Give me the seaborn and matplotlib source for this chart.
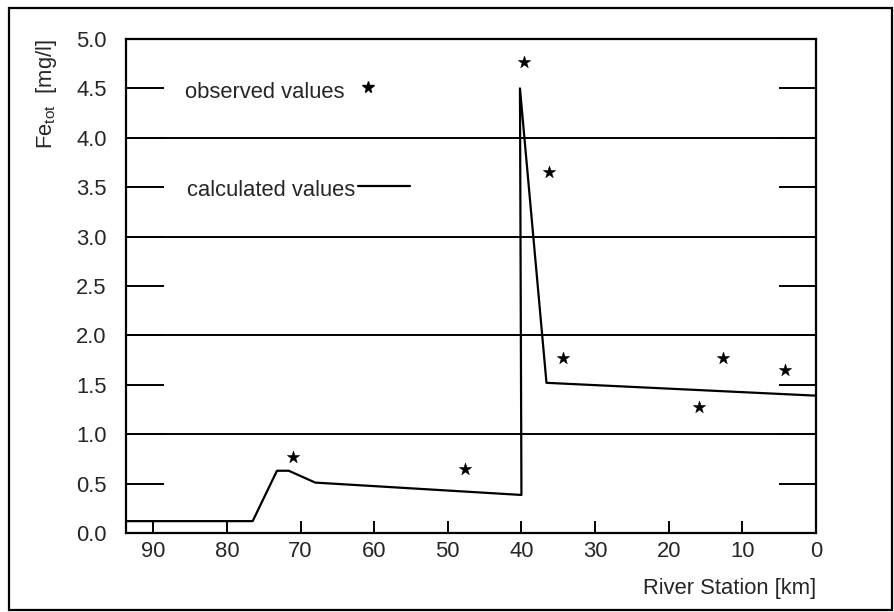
# Fe_tot along the river: observed samples vs calculated profile
import matplotlib
matplotlib.use("Agg")
import matplotlib.pyplot as plt
from matplotlib.patches import Rectangle
from matplotlib.ticker import FixedLocator
import pandas as pd
import seaborn as sns

# ---- data ----
calc_km = [93.7, 76.5, 73.2, 71.6, 68.0, 40.0, 40.2, 36.6, 0.0]
calc_fe = [0.12, 0.12, 0.63, 0.63, 0.51, 0.385, 4.50, 1.52, 1.39]

obs_km = [71.0, 47.6, 39.7, 36.3, 34.3, 15.9, 12.6, 4.2]
obs_fe = [0.77, 0.645, 4.77, 3.65, 1.77, 1.28, 1.77, 1.65]

x_ticks = [90, 80, 70, 60, 50, 40, 30, 20, 10, 0]
y_ticks = [0.0, 0.5, 1.0, 1.5, 2.0, 2.5, 3.0, 3.5, 4.0, 4.5, 5.0]
y_grid = [1, 2, 3, 4]

calc = pd.DataFrame({"km": calc_km, "fe": calc_fe})
obs = pd.DataFrame({"km": obs_km, "fe": obs_fe})

# ---- style ----
sns.set_theme(style="white")
plt.rcParams["font.family"] = ["Liberation Sans", "DejaVu Sans"]
plt.rcParams["mathtext.fontset"] = "custom"
plt.rcParams["mathtext.rm"] = "Liberation Sans"
plt.rcParams["mathtext.it"] = "Liberation Sans"

FS = 15.8

fig = plt.figure(figsize=(8.95, 6.12), dpi=100)
ax = fig.add_axes([0.1408, 0.1291, 0.7709, 0.8072])

# ---- plot ----
sns.lineplot(data=calc, x="km", y="fe", ax=ax, color="black", lw=1.6,
             sort=False, estimator=None)
sns.scatterplot(data=obs, x="km", y="fe", ax=ax, color="black", marker="*",
                s=85, edgecolor="black", linewidth=0.4, zorder=5)

ax.set_xlim(93.7, 0)
ax.set_ylim(0, 5)
ax.set_xticks(x_ticks)
ax.set_yticks(y_ticks)
ax.set_yticklabels([f"{v:.1f}" for v in y_ticks])
# integer levels get full-width grid lines (minor ticks that sit on majors)
ax.yaxis.remove_overlapping_locs = False
ax.yaxis.set_minor_locator(FixedLocator(y_grid))
ax.grid(which="minor", axis="y", color="black", lw=1.4)

ax.tick_params(axis="x", direction="in", length=9, width=1.4, color="black",
               labelsize=FS, pad=6, bottom=True, top=False)
ax.tick_params(axis="y", which="major", direction="in", length=27, width=1.4,
               color="black", labelsize=FS, pad=14, left=True, right=True)
ax.tick_params(axis="y", which="minor", length=0)

for s in ax.spines.values():
    s.set_color("black")
    s.set_linewidth(1.6)

ax.set_xlabel("River Station [km]", fontsize=FS, loc="right", labelpad=11)
ax.set_ylabel(r"Fe$_{\mathrm{tot}}$  [mg/l]", fontsize=FS, loc="top", labelpad=12)

# ---- legend drawn inside the plot, text first then symbol ----
ax.text(0.0855, 0.891, "observed values", transform=ax.transAxes,
        fontsize=FS, va="center", ha="left")
ax.plot([0.351], [0.903], transform=ax.transAxes, marker="*", ms=8.5,
        color="black", ls="none", clip_on=False)
ax.text(0.0884, 0.694, "calculated values", transform=ax.transAxes,
        fontsize=FS, va="center", ha="left")
ax.plot([0.336, 0.412], [0.702, 0.702], transform=ax.transAxes,
        color="black", lw=1.6)

# outer frame of the scanned figure
fig.patches.append(Rectangle((0.010, 0.004), 0.987, 0.983,
                             transform=fig.transFigure, fill=False,
                             edgecolor="black", lw=1.6))

fig.savefig("out.png", dpi=100)
